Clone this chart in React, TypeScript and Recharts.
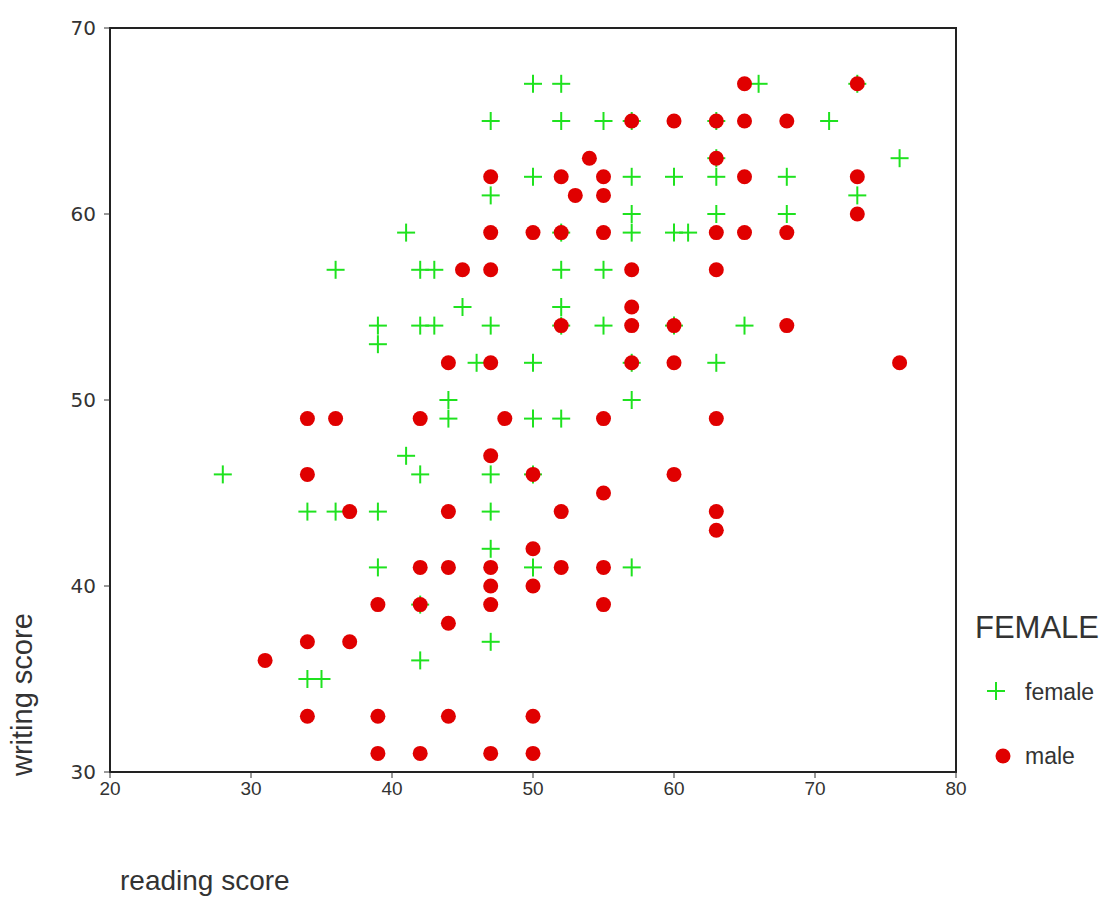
import { ScatterChart, Scatter, XAxis, YAxis, ReferenceArea, Label } from "recharts";

// reading / writing scores, one array per series
const femaleReading = [
  50, 52, 66, 73, 47, 52, 55, 57, 63, 71, 63, 76, 50, 57, 60, 63, 68, 47, 73, 57, 63, 68,
  41, 52, 57, 60, 61, 36, 42, 43, 52, 55, 45, 52, 39, 42, 43, 47, 52, 55, 60, 65, 39,
  46, 50, 57, 63, 44, 57, 44, 50, 52, 41, 28, 42, 47, 50, 34, 36, 39, 47, 47, 39, 50,
  57, 42, 47, 42, 34, 35,
];
const femaleWriting = [
  67, 67, 67, 67, 65, 65, 65, 65, 65, 65, 63, 63, 62, 62, 62, 62, 62, 61, 61, 60, 60, 60,
  59, 59, 59, 59, 59, 57, 57, 57, 57, 57, 55, 55, 54, 54, 54, 54, 54, 54, 54, 54, 53,
  52, 52, 52, 52, 50, 50, 49, 49, 49, 47, 46, 46, 46, 46, 44, 44, 44, 44, 42, 41, 41,
  41, 39, 37, 36, 35, 35,
];
const maleReading = [
  65, 73, 57, 60, 63, 65, 68, 54, 63, 47, 52, 55, 65, 73, 53, 55, 73, 47, 50, 52, 55, 63,
  65, 68, 45, 47, 57, 63, 57, 52, 57, 60, 68, 44, 47, 57, 60, 76, 34, 36, 42, 48, 55,
  63, 47, 34, 50, 60, 55, 37, 44, 52, 63, 63, 50, 42, 44, 47, 52, 55, 47, 50, 39, 42,
  47, 55, 44, 34, 37, 31, 34, 39, 44, 50, 39, 42, 47, 50,
];
const maleWriting = [
  67, 67, 65, 65, 65, 65, 65, 63, 63, 62, 62, 62, 62, 62, 61, 61, 60, 59, 59, 59, 59, 59,
  59, 59, 57, 57, 57, 57, 55, 54, 54, 54, 54, 52, 52, 52, 52, 52, 49, 49, 49, 49, 49,
  49, 47, 46, 46, 46, 45, 44, 44, 44, 44, 43, 42, 41, 41, 41, 41, 41, 40, 40, 39, 39,
  39, 39, 38, 37, 37, 36, 33, 33, 33, 33, 31, 31, 31, 31,
];

const xTicks = [20, 30, 40, 50, 60, 70, 80];
const yTicks = [30, 40, 50, 60, 70];

const GREEN = "#1fe21f";
const RED = "#e00000";
const TEXT = "#333";
const SANS = "'Liberation Sans', Arial, sans-serif";

const femaleData = femaleReading.map((r, i) => ({ read: r, write: femaleWriting[i] }));
const maleData = maleReading.map((r, i) => ({ read: r, write: maleWriting[i] }));

function Plus(props: any) {
  const { cx, cy } = props;
  if (cx == null || cy == null) return null;
  return (
    <g stroke={GREEN} strokeWidth={2}>
      <line x1={cx - 9} y1={cy} x2={cx + 9} y2={cy} />
      <line x1={cx} y1={cy - 9} x2={cx} y2={cy + 9} />
    </g>
  );
}

function Dot(props: any) {
  const { cx, cy } = props;
  if (cx == null || cy == null) return null;
  return <circle cx={cx} cy={cy} r={7.5} fill={RED} />;
}

function XTick(props: any) {
  const { x, y, payload } = props;
  return (
    <text
      x={x}
      y={y + 15}
      textAnchor="middle"
      fontSize={19}
      fontFamily="'Liberation Sans Narrow', 'Liberation Sans', Arial"
      fill={TEXT}
    >
      {payload.value}
    </text>
  );
}

function YTick(props: any) {
  const { x, y, payload } = props;
  return (
    <text
      x={x}
      y={y + 7}
      textAnchor="end"
      fontSize={20}
      fontFamily="'DejaVu Sans', Verdana, sans-serif"
      fill={TEXT}
    >
      {payload.value}
    </text>
  );
}

function YTitle(props: any) {
  const { viewBox } = props;
  const x = viewBox.x - 18;
  const y = viewBox.y + viewBox.height + 4;
  return (
    <text
      x={x}
      y={y}
      transform={`rotate(-90 ${x} ${y})`}
      textAnchor="start"
      fontSize={29}
      fontFamily={SANS}
      fill={TEXT}
    >
      writing score
    </text>
  );
}

function XTitle(props: any) {
  const { viewBox } = props;
  return (
    <text
      x={viewBox.x + 10}
      y={viewBox.y + viewBox.height + 88}
      fontSize={28}
      fontFamily={SANS}
      fill={TEXT}
    >
      reading score
    </text>
  );
}

function LegendBox() {
  return (
    <div
      style={{
        position: "absolute",
        left: 975,
        top: 611,
        fontFamily: SANS,
        color: TEXT,
      }}
    >
      <div style={{ fontSize: 31, lineHeight: "34px", marginBottom: 32 }}>FEMALE</div>
      <div style={{ display: "flex", alignItems: "center", height: 30, marginBottom: 34 }}>
        <svg width={42} height={30}>
          <Plus cx={21} cy={14} />
        </svg>
        <span style={{ fontSize: 23, marginLeft: 8 }}>female</span>
      </div>
      <div style={{ display: "flex", alignItems: "center", height: 30 }}>
        <svg width={42} height={30}>
          <Dot cx={28} cy={15} />
        </svg>
        <span style={{ fontSize: 23, marginLeft: 8 }}>male</span>
      </div>
    </div>
  );
}

export default function App() {
  return (
    <div style={{ position: "absolute", left: 0, top: 0, width: 1108, height: 898, background: "#fff" }}>
      <ScatterChart
        width={1108}
        height={898}
        margin={{ top: 28, right: 152, bottom: 96, left: 50 }}
      >
        <ReferenceArea
          x1={20}
          x2={80}
          y1={30}
          y2={70}
          fill="none"
          stroke="#222"
          strokeWidth={2}
          ifOverflow="visible"
        />
        <XAxis
          type="number"
          dataKey="read"
          domain={[20, 80]}
          ticks={xTicks}
          axisLine={false}
          tickLine={{ stroke: "#333" }}
          tickSize={6}
          tickMargin={2}
          height={30}
          tick={<XTick />}
        >
          <Label content={<XTitle />} />
        </XAxis>
        <YAxis
          type="number"
          dataKey="write"
          domain={[30, 70]}
          ticks={yTicks}
          axisLine={false}
          tickLine={{ stroke: "#333" }}
          tickSize={6}
          tickMargin={8}
          width={60}
          tick={<YTick />}
        >
          <Label content={<YTitle />} />
        </YAxis>
        <Scatter name="female" data={femaleData} shape={<Plus />} isAnimationActive={false} />
        <Scatter name="male" data={maleData} shape={<Dot />} isAnimationActive={false} />
      </ScatterChart>
      <LegendBox />
    </div>
  );
}
